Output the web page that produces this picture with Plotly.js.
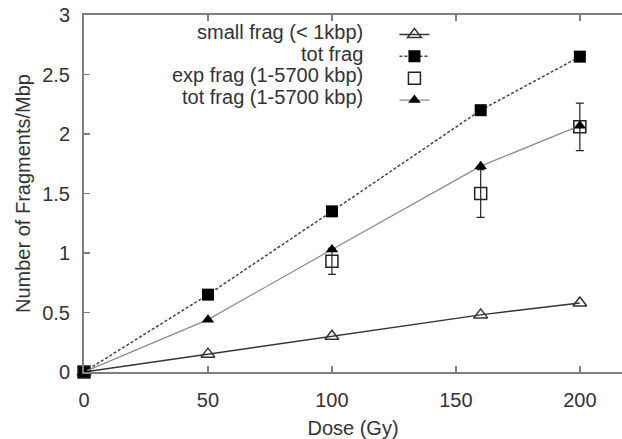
<!DOCTYPE html>
<html>
<head>
<meta charset="utf-8">
<script src="https://cdn.plot.ly/plotly-3.0.1.min.js"></script>
<style>html,body{margin:0;padding:0;background:#fff;}#chart{width:622px;height:439px;}</style>
</head>
<body>
<div id="chart"></div>
<script>
const dose = [0, 50, 100, 160, 200];
const smallFrag = [0, 0.15, 0.30, 0.48, 0.58];
const totFrag = [0, 0.65, 1.35, 2.20, 2.65];
const expDose = [0, 100, 160, 200];
const expFrag = [0, 0.93, 1.50, 2.06];
const expErr = [0, 0.11, 0.20, 0.20];
const totFragRange = [0, 0.44, 1.03, 1.73, 2.07];
const seriesNames = ['small frag (< 1kbp)', 'tot frag', 'exp frag (1-5700 kbp)', 'tot frag (1-5700 kbp)'];
const xTicks = [0, 50, 100, 150, 200];
const yTicks = [0, 0.5, 1, 1.5, 2, 2.5, 3];

const FONT = 'Liberation Sans, Arial, Helvetica, sans-serif';

const traces = [
  {x: dose, y: smallFrag, mode: 'lines+markers', name: ' ',
   line: {color: '#333', width: 1.5},
   marker: {symbol: 'triangle-up-open', size: 12, color: '#333', line: {width: 1.5, color: '#333'}},
   cliponaxis: false},
  {x: dose, y: totFrag, mode: 'lines+markers', name: ' ',
   line: {color: '#444', width: 1.5, dash: '3px,2px'},
   marker: {symbol: 'square', size: 12, color: '#000'},
   cliponaxis: false},
  {x: expDose, y: expFrag, mode: 'markers', name: ' ',
   marker: {symbol: 'square-open', size: 12, color: '#222', line: {width: 1.5, color: '#222'}},
   error_y: {type: 'data', array: expErr, visible: true, color: '#222', thickness: 1.2, width: 4},
   cliponaxis: false},
  {x: dose, y: totFragRange, mode: 'lines+markers', name: ' ',
   line: {color: '#8a8a8a', width: 1.2},
   marker: {symbol: 'triangle-up', size: 11, color: '#000'},
   cliponaxis: false}
];

const rowY = [0.952, 0.892, 0.831, 0.771];
const annotations = seriesNames.map((t, i) => ({
  text: t, xref: 'paper', yref: 'paper', x: 0.522, y: rowY[i],
  xanchor: 'right', yanchor: 'middle', showarrow: false,
  font: {family: FONT, size: 20, color: '#333'}
}));

const layout = {
  width: 622, height: 439,
  margin: {l: 84, r: 0, t: 15, b: 67},
  paper_bgcolor: '#fff', plot_bgcolor: '#fff',
  showlegend: true,
  legend: {x: 0.577, y: 0.99, xanchor: 'left', yanchor: 'top',
    bgcolor: 'rgba(0,0,0,0)', font: {family: FONT, size: 14.5, color: '#333'},
    tracegroupgap: 0},
  annotations: annotations,
  hovermode: false,
  xaxis: {
    range: [0, 217], tickvals: xTicks, ticktext: xTicks.map(String),
    showgrid: false, zeroline: false, showline: true, linecolor: '#808080', linewidth: 2,
    mirror: 'ticks', ticks: 'inside', ticklen: 6, tickcolor: '#808080', tickwidth: 1.5,
    ticklabelstandoff: 9,
    tickfont: {family: FONT, size: 20, color: '#333'},
    title: {text: 'Dose (Gy)', font: {family: FONT, size: 20, color: '#333'}, standoff: 13}
  },
  yaxis: {
    range: [0, 3], tickvals: yTicks, ticktext: yTicks.map(String),
    showgrid: false, zeroline: false, showline: true, linecolor: '#808080', linewidth: 2,
    ticks: 'inside', ticklen: 6, tickcolor: '#808080', tickwidth: 1.5,
    ticklabelstandoff: 8,
    tickfont: {family: FONT, size: 20, color: '#333'},
    title: {text: 'Number of Fragments/Mbp', font: {family: FONT, size: 20, color: '#333'}, standoff: 6}
  }
};

Plotly.newPlot('chart', traces, layout, {staticPlot: true, displayModeBar: false});
</script>
</body>
</html>
